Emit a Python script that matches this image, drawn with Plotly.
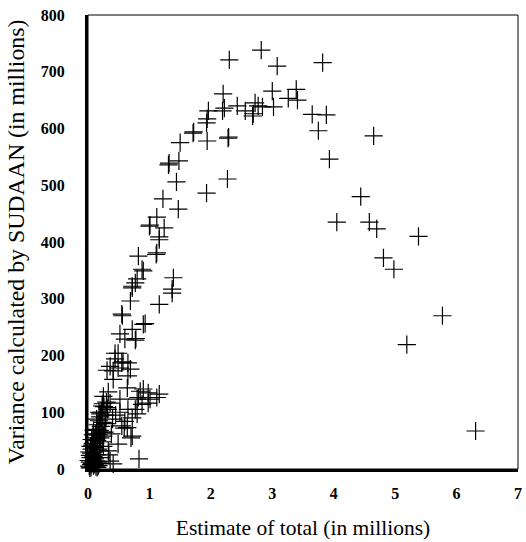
import plotly.graph_objects as go

# Estimate of total (millions) and variance (millions)
est_upper = [1.50, 1.71, 1.72, 1.94, 1.96, 1.94, 1.93, 2.20, 2.19, 2.22, 2.28, 2.30, 2.43, 2.56,
             2.68, 2.69, 2.72, 2.77, 2.82, 2.84, 3.00, 3.02, 3.08, 3.26, 3.39, 3.41, 3.65, 3.75,
             3.82, 3.88, 4.65, 3.93, 4.44, 4.05, 4.58, 4.70, 5.38, 4.81, 4.98, 5.77, 5.19, 6.31,
             2.27, 2.29]
var_upper = [575, 592, 594, 578, 631, 617, 610, 661, 631, 636, 583, 721, 640, 631,
             622, 626, 645, 640, 738, 638, 666, 638, 710, 653, 669, 650, 625, 596,
             716, 624, 587, 546, 480, 435, 435, 423, 410, 372, 352, 270, 219, 67,
             511, 585]

est_mid = [1.31, 1.32, 1.48, 1.44, 1.93, 1.22, 1.47, 1.12, 1.00, 1.01, 1.24, 1.16, 1.16,
           0.82, 1.11, 1.12, 0.88, 0.90, 0.80, 0.77, 0.72, 1.39, 1.37, 0.72, 0.69, 1.37,
           1.16, 0.55, 0.56, 0.93, 0.90, 0.72, 0.52, 0.77, 0.78, 0.60, 0.44, 0.49, 0.44,
           0.55, 0.57, 0.65, 0.49, 0.36, 0.69, 0.41, 0.31, 0.41, 0.65]
var_mid = [536, 539, 543, 506, 486, 476, 458, 444, 428, 430, 425, 409, 404,
           375, 378, 381, 352, 349, 335, 328, 322, 337, 317, 319, 296, 310,
           290, 273, 270, 256, 255, 246, 238, 227, 230, 229, 204, 204, 194,
           187, 189, 187, 178, 181, 176, 173, 174, 158, 164]

est_low = [0.90, 0.85, 0.98, 1.16, 1.12, 0.64, 0.33, 0.25, 0.52, 0.36, 0.82, 0.80, 0.98,
           1.01, 0.88, 0.77, 0.65, 0.23, 0.31, 0.20, 0.80, 0.72, 0.60, 0.55, 0.64, 0.72,
           0.49, 0.83, 0.33, 0.36, 0.41, 0.70, 0.59, 0.45, 0.52, 0.40]
var_low = [141, 137, 134, 132, 126, 143, 136, 128, 123, 116, 126, 123, 116,
           123, 114, 105, 105, 111, 108, 97, 97, 90, 84, 76, 73, 58,
           44, 18, 32, 14, 9, 55, 72, 95, 100, 88]

est_cluster = [0.02, 0.03, 0.04, 0.05, 0.06, 0.07, 0.08, 0.09, 0.10, 0.11, 0.12, 0.13, 0.14,
               0.15, 0.16, 0.17, 0.18, 0.19, 0.20, 0.21, 0.22, 0.24, 0.26, 0.28, 0.30, 0.32,
               0.03, 0.05, 0.07, 0.09, 0.11, 0.13, 0.15, 0.17, 0.19, 0.21, 0.23, 0.25, 0.27,
               0.02, 0.04, 0.06, 0.08, 0.10, 0.12, 0.14, 0.16, 0.18, 0.20, 0.22, 0.24, 0.29,
               0.01, 0.03, 0.05, 0.07, 0.09, 0.11, 0.13, 0.15, 0.17, 0.19, 0.25, 0.34, 0.38]
var_cluster = [5, 12, 20, 28, 35, 10, 45, 22, 55, 30, 62, 40, 70,
               50, 78, 60, 85, 68, 92, 75, 100, 82, 110, 95, 118, 105,
               2, 8, 15, 6, 18, 4, 25, 12, 32, 20, 48, 58, 65,
               30, 40, 52, 60, 38, 45, 88, 35, 100, 55, 65, 115, 80,
               15, 24, 3, 42, 68, 8, 14, 3, 6, 10, 40, 25, 62]

est = est_upper + est_mid + est_low + est_cluster
var = var_upper + var_mid + var_low + var_cluster

x_ticks = [0, 1, 2, 3, 4, 5, 6, 7]
y_ticks = [0, 100, 200, 300, 400, 500, 600, 700, 800]

fig = go.Figure()
fig.add_trace(go.Scatter(
    x=est, y=var, mode="markers",
    marker=dict(symbol="cross-thin", size=13, color="black",
                line=dict(color="black", width=1.2)),
    showlegend=False, cliponaxis=False,
))

font_family = "Liberation Serif, Times New Roman, serif"
fig.update_layout(
    width=526, height=542,
    margin=dict(l=88, r=8, t=15, b=73),
    plot_bgcolor="white", paper_bgcolor="white",
    font=dict(family=font_family, color="black"),
    xaxis=dict(range=[0, 7], tickvals=x_ticks, ticktext=[str(v) for v in x_ticks],
               showgrid=False, zeroline=False, showline=True, linecolor="black",
               linewidth=2.5, ticks="outside", ticklen=8, tickcolor="rgba(0,0,0,0)",
               automargin=False,
               tickfont=dict(size=16, family=font_family, weight="bold"),
               title=dict(text="Estimate of total (in millions)",
                          font=dict(size=21.5, family=font_family), standoff=19)),
    yaxis=dict(range=[0, 800], tickvals=y_ticks, ticktext=[str(v) for v in y_ticks],
               showgrid=False, zeroline=False, showline=True, linecolor="black",
               linewidth=3, ticks="outside", ticklen=17, tickcolor="rgba(0,0,0,0)",
               automargin=False,
               tickfont=dict(size=16, family=font_family, weight="bold"),
               title=dict(text="Variance calculated by SUDAAN (in millions)",
                          font=dict(size=23.8, family=font_family), standoff=10)),
)
fig.add_shape(type="rect", xref="paper", yref="paper", x0=0, y0=0, x1=1, y1=1,
              line=dict(color="black", width=1), layer="above")

fig.write_html(
    "out.html",
    config={"displayModeBar": False},
    post_script="document.body.style.margin='0';document.documentElement.style.overflow='hidden';",
)
